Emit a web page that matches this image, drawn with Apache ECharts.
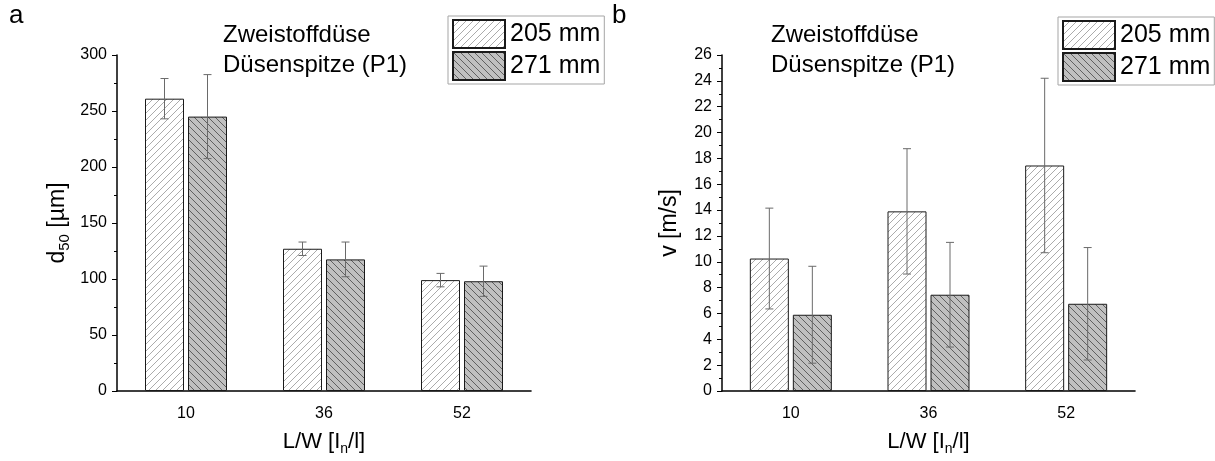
<!DOCTYPE html>
<html>
<head>
<meta charset="utf-8">
<script src="https://cdn.jsdelivr.net/npm/echarts@6/dist/echarts.min.js"></script>
<style>
html,body{margin:0;padding:0;background:#fff;}
#chart{width:1215px;height:461px;}
</style>
</head>
<body>
<div id="chart"></div>
<script>
// ---- data ----
const categories = ['10', '36', '52'];
const seriesNames = ['205 mm', '271 mm'];
// panel a: d50 [µm]
const d50_205 = [261, 127, 99];
const d50_205_err = [18, 6, 6];
const d50_271 = [245, 117.5, 98];
const d50_271_err = [37.5, 15.5, 13.5];
// panel b: v [m/s]
const v_205 = [10.25, 13.9, 17.45];
const v_205_err = [3.9, 4.85, 6.75];
const v_271 = [5.9, 7.45, 6.75];
const v_271_err = [3.75, 4.05, 4.35];

// ---- styles ----
const FONT = '"Liberation Sans", Arial, sans-serif';
const BAR_W = 39, BAR_GAP = 4;

function hatch(bg, fg, dir) {
  const s = 7;
  const c = document.createElement('canvas');
  c.width = s; c.height = s;
  const g = c.getContext('2d');
  g.fillStyle = bg; g.fillRect(0, 0, s, s);
  g.strokeStyle = fg; g.lineWidth = 0.75;
  g.beginPath();
  if (dir === '/') {
    for (let k = -1; k <= 1; k++) {
      g.moveTo(k * s - 1, s + 1); g.lineTo(k * s + s + 1, -1);
    }
  } else {
    for (let k = -1; k <= 1; k++) {
      g.moveTo(k * s - 1, -1); g.lineTo(k * s + s + 1, s + 1);
    }
  }
  g.stroke();
  return { image: c, repeat: 'repeat' };
}
const pat205 = hatch('#ffffff', '#8f8f8f', '/');
const pat271 = hatch('#c0c0c0', '#404040', '\\');

function errData(mean, err) {
  return mean.map((m, i) => [i, m - err[i], m + err[i]]);
}
function errRender(offset) {
  return function (params, api) {
    const i = api.value(0);
    const lo = api.coord([i, api.value(1)]);
    const hi = api.coord([i, api.value(2)]);
    const x = lo[0] + offset;
    const cw = 4;
    const st = { stroke: '#6a6a6a', lineWidth: 1 };
    return {
      type: 'group',
      children: [
        { type: 'line', shape: { x1: x, y1: lo[1], x2: x, y2: hi[1] }, style: st },
        { type: 'line', shape: { x1: x - cw, y1: hi[1], x2: x + cw, y2: hi[1] }, style: st },
        { type: 'line', shape: { x1: x - cw, y1: lo[1], x2: x + cw, y2: lo[1] }, style: st }
      ]
    };
  };
}

function xAxis(gi) {
  return {
    type: 'category', gridIndex: gi, data: categories,
    axisLine: { lineStyle: { color: '#000', width: 1.6 } },
    axisTick: { alignWithLabel: true, length: 5, lineStyle: { color: '#000' } },
    axisLabel: { color: '#000', fontSize: 16, fontFamily: FONT, margin: 15 },
    name: 'L/W [I{sub|n}/l]', nameLocation: 'middle', nameGap: 37,
    nameTextStyle: {
      color: '#000', fontSize: 22, fontFamily: FONT, lineHeight: 28,
      rich: { sub: { fontSize: 14, fontFamily: FONT, color: '#000', lineHeight: 14, verticalAlign: 'bottom' } }
    }
  };
}
function yAxis(gi, max, interval, name, gap) {
  return {
    type: 'value', gridIndex: gi, min: 0, max: max, interval: interval,
    splitLine: { show: false },
    axisLine: { show: true, lineStyle: { color: '#000', width: 1.5 } },
    axisTick: { show: true, length: 5, lineStyle: { color: '#000' } },
    minorTick: { show: true, splitNumber: 2, length: 3, lineStyle: { color: '#000' } },
    axisLabel: { color: '#000', fontSize: 16, fontFamily: FONT, margin: 10 },
    name: name, nameLocation: 'middle', nameGap: gap, nameRotate: 90,
    nameTextStyle: {
      color: '#000', fontSize: 23, fontFamily: FONT, lineHeight: 28,
      rich: { sub: { fontSize: 15, fontFamily: FONT, color: '#000', lineHeight: 15, verticalAlign: 'bottom' } }
    }
  };
}
function bars(name, data, pat, xi, yi) {
  return {
    type: 'bar', name: name, xAxisIndex: xi, yAxisIndex: yi, data: data,
    barWidth: BAR_W, barGap: (BAR_GAP / BAR_W * 100) + '%',
    itemStyle: { color: pat, borderColor: '#1a1a1a', borderWidth: 1 },
    emphasis: { disabled: true }
  };
}
function errs(mean, err, offset, xi, yi) {
  return {
    type: 'custom', xAxisIndex: xi, yAxisIndex: yi, data: errData(mean, err),
    renderItem: errRender(offset), z: 5, silent: true
  };
}
function legend(left, top) {
  return {
    data: seriesNames, orient: 'vertical', left: left, top: top,
    icon: 'rect', itemWidth: 52, itemHeight: 28, itemGap: 2,
    padding: [3, 4, 3, 4], borderColor: '#a5a5a5', borderWidth: 1, backgroundColor: '#fff',
    textStyle: { color: '#000', fontSize: 25, fontFamily: FONT },
    selectedMode: false
  };
}
const off = (BAR_W + BAR_GAP) / 2;

const chart = echarts.init(document.getElementById('chart'));
chart.setOption({
  animation: false,
  backgroundColor: '#fff',
  title: [
    { text: 'a', left: 9, top: 3, padding: 0, textStyle: { fontSize: 26, fontWeight: 'normal', color: '#000', fontFamily: FONT } },
    { text: 'b', left: 612, top: 3, padding: 0, textStyle: { fontSize: 26, fontWeight: 'normal', color: '#000', fontFamily: FONT } },
    { text: 'Zweistoffdüse\nDüsenspitze (P1)', left: 223, top: 20, padding: 0, textStyle: { fontSize: 24, lineHeight: 30, fontWeight: 'normal', color: '#000', fontFamily: FONT } },
    { text: 'Zweistoffdüse\nDüsenspitze (P1)', left: 771, top: 20, padding: 0, textStyle: { fontSize: 24, lineHeight: 30, fontWeight: 'normal', color: '#000', fontFamily: FONT } }
  ],
  legend: [legend(448, 16), legend(1058, 17)],
  grid: [
    { left: 117, top: 55, width: 414, height: 336 },
    { left: 722, top: 55, width: 413, height: 336 }
  ],
  xAxis: [xAxis(0), xAxis(1)],
  yAxis: [yAxis(0, 300, 50, 'd{sub|50} [µm]', 45), yAxis(1, 26, 2, 'v [m/s]', 38)],
  series: [
    bars(seriesNames[0], d50_205, pat205, 0, 0),
    bars(seriesNames[1], d50_271, pat271, 0, 0),
    errs(d50_205, d50_205_err, -off, 0, 0),
    errs(d50_271, d50_271_err, off, 0, 0),
    bars(seriesNames[0], v_205, pat205, 1, 1),
    bars(seriesNames[1], v_271, pat271, 1, 1),
    errs(v_205, v_205_err, -off, 1, 1),
    errs(v_271, v_271_err, off, 1, 1)
  ]
});
</script>
</body>
</html>
